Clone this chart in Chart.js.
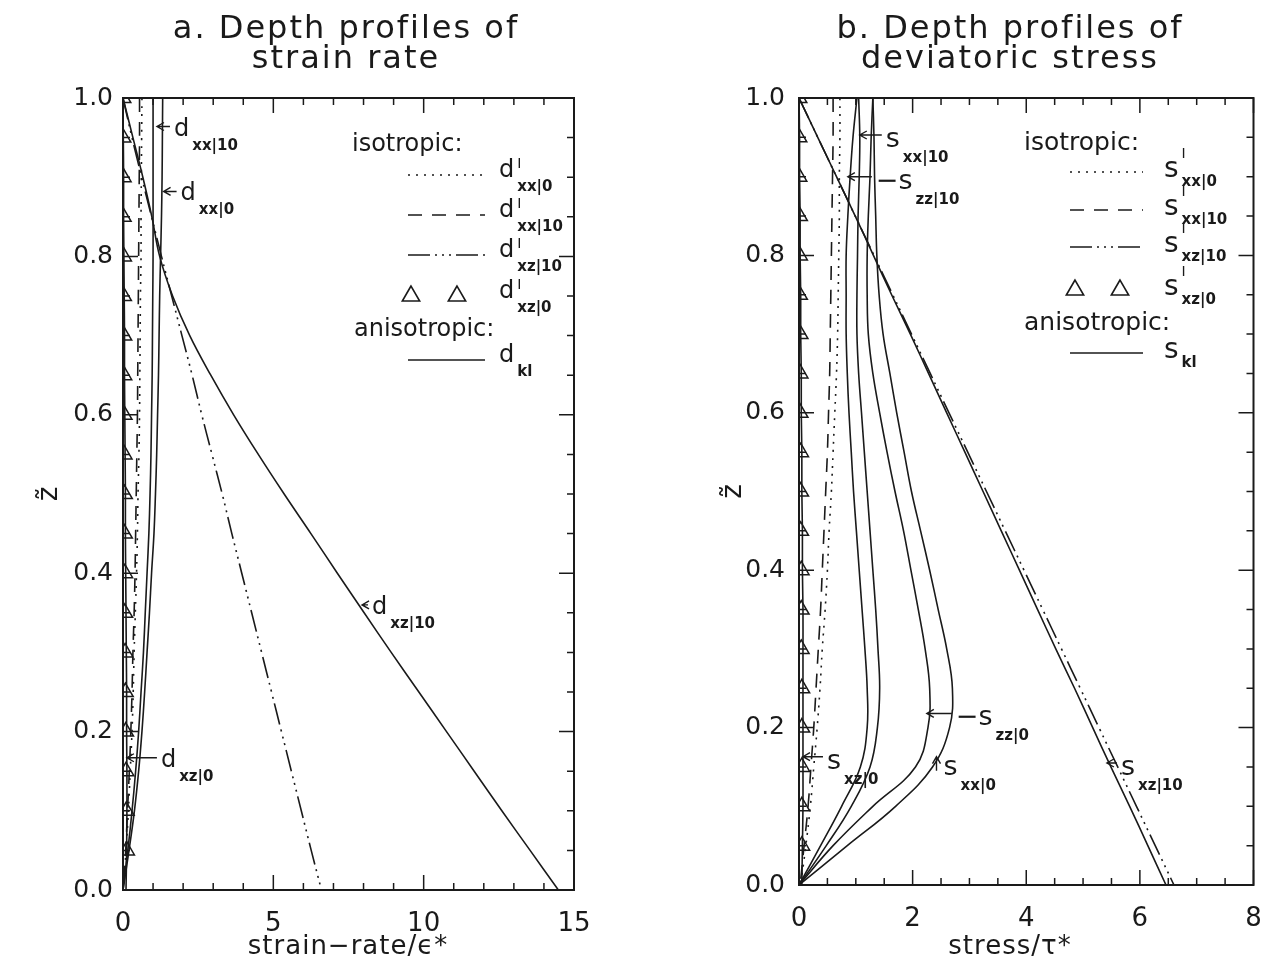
<!DOCTYPE html>
<html>
<head>
<meta charset="utf-8">
<script src="https://cdn.jsdelivr.net/npm/chart.js@4.4.1/dist/chart.umd.min.js"></script>
<style>
  body { margin: 0; background: #fff; }
  #wrap { position: relative; width: 1264px; height: 975px; }
  canvas { position: absolute; top: 0; }
</style>
</head>
<body>
<div id="wrap">
  <canvas id="chartA" width="640" height="975" style="left:0"></canvas>
  <canvas id="chartB" width="624" height="975" style="left:640px"></canvas>
</div>
<script>
// depth levels (z~), top to bottom
var zLevels = [1.0, 0.95, 0.9, 0.85, 0.8, 0.75, 0.7, 0.65, 0.6, 0.55, 0.5, 0.45, 0.4, 0.35, 0.3, 0.25, 0.2, 0.15, 0.1, 0.05, 0.0];
var zMarks = [1.0, 0.95, 0.9, 0.85, 0.8, 0.75, 0.7, 0.65, 0.6, 0.55, 0.5, 0.45, 0.4, 0.35, 0.3, 0.25, 0.2, 0.15, 0.1, 0.05];

// a. strain rate, isotropic
var dIxx0  = [0.63, 0.62, 0.61, 0.6, 0.6, 0.58, 0.57, 0.56, 0.55, 0.53, 0.5, 0.48, 0.45, 0.41, 0.37, 0.34, 0.3, 0.24, 0.18, 0.1, 0.02];
var dIxx10 = [0.55, 0.55, 0.54, 0.53, 0.52, 0.51, 0.5, 0.49, 0.48, 0.46, 0.44, 0.42, 0.4, 0.37, 0.33, 0.3, 0.26, 0.21, 0.15, 0.09, 0.02];
var dIxz10 = [0, 0.3, 0.62, 0.95, 1.28, 1.62, 1.96, 2.3, 2.62, 2.96, 3.3, 3.62, 3.95, 4.28, 4.61, 4.94, 5.27, 5.6, 5.93, 6.26, 6.6];
var dIxz0  = [0, 0, 0.01, 0.01, 0.02, 0.02, 0.03, 0.03, 0.04, 0.04, 0.05, 0.05, 0.06, 0.06, 0.07, 0.08, 0.09, 0.1, 0.11, 0.12];
// a. strain rate, anisotropic
var dxx10 = [1.0, 1.0, 1.0, 1.0, 1.0, 0.99, 0.98, 0.97, 0.95, 0.93, 0.9, 0.86, 0.8, 0.74, 0.68, 0.6, 0.52, 0.42, 0.3, 0.16, 0];
var dxx0  = [1.32, 1.31, 1.3, 1.28, 1.25, 1.22, 1.2, 1.18, 1.15, 1.12, 1.08, 1.03, 0.95, 0.88, 0.8, 0.72, 0.63, 0.52, 0.38, 0.2, 0];
var dxz10 = [0, 0.33, 0.66, 0.96, 1.22, 1.65, 2.22, 2.92, 3.68, 4.5, 5.36, 6.25, 7.13, 8.02, 8.92, 9.84, 10.76, 11.68, 12.6, 13.54, 14.48];
var dxz0  = [0, 0.01, 0.02, 0.02, 0.03, 0.04, 0.05, 0.05, 0.06, 0.07, 0.08, 0.08, 0.09, 0.1, 0.11, 0.12, 0.12, 0.13, 0.13, 0.12, 0.1];

// b. deviatoric stress, isotropic
var sIxx0  = [0.72, 0.72, 0.71, 0.71, 0.7, 0.69, 0.68, 0.66, 0.63, 0.6, 0.57, 0.53, 0.5, 0.46, 0.41, 0.37, 0.32, 0.26, 0.2, 0.12, 0.03];
var sIxx10 = [0.6, 0.6, 0.59, 0.58, 0.57, 0.56, 0.55, 0.54, 0.52, 0.5, 0.47, 0.44, 0.41, 0.38, 0.34, 0.3, 0.26, 0.21, 0.16, 0.09, 0.02];
var sIxz10 = [0, 0.33, 0.66, 0.99, 1.32, 1.65, 1.98, 2.31, 2.64, 2.97, 3.3, 3.63, 3.96, 4.29, 4.62, 4.95, 5.28, 5.61, 5.94, 6.27, 6.6];
var sIxz0  = [0, 0, 0, 0.01, 0.01, 0.01, 0.02, 0.02, 0.02, 0.03, 0.03, 0.03, 0.04, 0.04, 0.04, 0.05, 0.05, 0.05, 0.05, 0.05];
// b. deviatoric stress, anisotropic
var sxx10  = [1.05, 1.07, 1.06, 1.04, 1.03, 1.02, 1.02, 1.05, 1.1, 1.15, 1.2, 1.25, 1.3, 1.35, 1.39, 1.42, 1.38, 1.25, 0.92, 0.48, 0];
var mszz10 = [1.02, 0.95, 0.9, 0.86, 0.83, 0.83, 0.83, 0.85, 0.88, 0.92, 0.96, 1.01, 1.06, 1.11, 1.16, 1.2, 1.2, 1.08, 0.75, 0.38, 0];
var sxx0   = [1.3, 1.32, 1.33, 1.35, 1.37, 1.41, 1.48, 1.6, 1.72, 1.85, 1.98, 2.14, 2.3, 2.45, 2.6, 2.7, 2.65, 2.35, 1.7, 0.85, 0];
var mszz0  = [1.3, 1.27, 1.25, 1.22, 1.2, 1.2, 1.22, 1.3, 1.42, 1.55, 1.69, 1.84, 1.97, 2.1, 2.22, 2.3, 2.27, 2.05, 1.3, 0.6, 0];
var sxz10  = [0, 0.33, 0.66, 0.99, 1.31, 1.63, 1.96, 2.28, 2.6, 2.92, 3.24, 3.56, 3.88, 4.2, 4.52, 4.85, 5.17, 5.49, 5.82, 6.14, 6.46];
var sxz0   = [0, 0.01, 0.01, 0.02, 0.02, 0.03, 0.03, 0.04, 0.04, 0.05, 0.05, 0.06, 0.06, 0.07, 0.07, 0.07, 0.07, 0.07, 0.07, 0.06, 0.05];

// tick labels
var zTicks = [0, 0.2, 0.4, 0.6, 0.8, 1.0];
var xTicksA = [0, 5, 10, 15];
var xTicksB = [0, 2, 4, 6, 8];

var INK = '#1a1a1a';
var FONT = '"DejaVu Sans", sans-serif';
var DOT = [2, 6], DASH = [14, 10], DASHDOT = [22, 5, 2, 5, 2, 5, 2, 5];

function pts(xs, zs) {
    return xs.map(function (v, i) { return { x: v, y: zs[i] }; });
}

function lineSet(data, dash) {
    return {
        data: pts(data, zLevels),
        showLine: true,
        borderColor: INK,
        borderWidth: 1.6,
        borderDash: dash || [],
        pointRadius: 0,
        tension: 0.4,
        clip: 0
    };
}

function markSet(data) {
    return {
        data: pts(data, zMarks),
        showLine: false,
        pointStyle: 'triangle',
        pointRadius: 9,
        pointBorderWidth: 1.5,
        pointBorderColor: INK,
        pointBackgroundColor: 'rgba(0,0,0,0)',
        clip: 0
    };
}

function drawTriangle(ctx, cx, cy, r) {
    ctx.beginPath();
    ctx.moveTo(cx, cy - r);
    ctx.lineTo(cx - r * 0.866, cy + r * 0.5);
    ctx.lineTo(cx + r * 0.866, cy + r * 0.5);
    ctx.closePath();
    ctx.stroke();
}

// letter with stacked super/subscript
function drawSym(ctx, x, base, size, baseY, sup, supY, sub, subY) {
    ctx.textAlign = 'left';
    ctx.textBaseline = 'alphabetic';
    ctx.font = size + 'px ' + FONT;
    ctx.fillText(base, x, baseY);
    var w = ctx.measureText(base).width;
    if (sup) {
        ctx.font = '14px ' + FONT;
        ctx.fillText(sup, x + w + 3, supY);
    }
    if (sub) {
        ctx.font = 'bold 15px ' + FONT;
        ctx.fillText(sub, x + w + 3, subY);
    }
}

// inward ticks on all four sides plus the frame
var frameTicks = {
    id: 'frameTicks',
    afterDatasetsDraw: function (chart, args, o) {
        var ctx = chart.ctx, a = chart.chartArea;
        var xs = chart.scales.x, ys = chart.scales.y;
        ctx.save();
        ctx.strokeStyle = INK;
        ctx.lineWidth = 1.5;
        ctx.beginPath();
        var n = Math.round((xs.max - xs.min) / o.xMinor);
        for (var i = 0; i <= n; i++) {
            var px = xs.getPixelForValue(xs.min + i * o.xMinor);
            var len = (i % o.xPer === 0) ? 15 : 7;
            ctx.moveTo(px, a.bottom); ctx.lineTo(px, a.bottom - len);
            ctx.moveTo(px, a.top); ctx.lineTo(px, a.top + len);
        }
        var m = Math.round((ys.max - ys.min) / o.yMinor);
        for (var j = 0; j <= m; j++) {
            var py = ys.getPixelForValue(ys.min + j * o.yMinor);
            var l2 = (j % o.yPer === 0) ? 15 : 7;
            ctx.moveTo(a.left, py); ctx.lineTo(a.left + l2, py);
            ctx.moveTo(a.right, py); ctx.lineTo(a.right - l2, py);
        }
        ctx.stroke();
        ctx.lineWidth = 2;
        ctx.strokeRect(a.left, a.top, a.right - a.left, a.bottom - a.top);
        ctx.restore();
    }
};

// titles, legend and arrow labels
var deco = {
    id: 'deco',
    afterDraw: function (chart, args, o) {
        var ctx = chart.ctx, a = chart.chartArea;
        var xs = chart.scales.x, ys = chart.scales.y;
        ctx.save();
        ctx.fillStyle = INK;
        ctx.strokeStyle = INK;

        ctx.textAlign = 'center';
        ctx.textBaseline = 'middle';
        ctx.letterSpacing = '2px';
        ctx.font = '32px ' + FONT;
        o.title.forEach(function (t, i) { ctx.fillText(t, o.titleX, 30 + i * 30); });

        ctx.letterSpacing = '1px';
        ctx.font = '26px ' + FONT;
        ctx.fillText(o.xTitle, o.xTitleX, 947);
        ctx.letterSpacing = '0px';

        ctx.save();
        ctx.translate(o.yTitleX, (a.top + a.bottom) / 2);
        ctx.rotate(-Math.PI / 2);
        ctx.font = '28px ' + FONT;
        ctx.fillText('z\u0303', 0, 0);
        ctx.restore();

        // legend
        var L = o.legend;
        ctx.textAlign = 'left';
        ctx.textBaseline = 'middle';
        ctx.font = L.headSize + 'px ' + FONT;
        ctx.fillText('isotropic:', L.isoX, L.isoY);
        ctx.fillText('anisotropic:', L.anisoX, L.anisoY);
        ctx.lineWidth = 1.6;
        L.rows.forEach(function (r) {
            if (r.style === 'tri') {
                ctx.setLineDash([]);
                drawTriangle(ctx, L.x0 + L.tri[0], r.y, 10);
                drawTriangle(ctx, L.x0 + L.tri[1], r.y, 10);
            } else {
                ctx.setLineDash(r.style === 'dot' ? DOT : r.style === 'dash' ? DASH : r.style === 'dashdot' ? DASHDOT : []);
                ctx.beginPath();
                ctx.moveTo(L.x0, r.y);
                ctx.lineTo(L.x1, r.y);
                ctx.stroke();
            }
            ctx.setLineDash([]);
            drawSym(ctx, L.textX, L.base, L.size, r.y + L.baseDy, r.sup, r.y + L.supDy, r.sub, r.y + L.subDy);
        });

        // arrow labels anchored on the curves
        ctx.lineWidth = 1.4;
        o.notes.forEach(function (n) {
            var px = xs.getPixelForValue(n.x), py = ys.getPixelForValue(n.z);
            ctx.beginPath();
            var tx, ty;
            if (n.dir === 'up') {
                ctx.moveTo(px - 4, py + 7); ctx.lineTo(px, py); ctx.lineTo(px + 4, py + 7);
                ctx.moveTo(px, py); ctx.lineTo(px, py + n.len);
                tx = px + 7; ty = py + 6;
            } else {
                ctx.moveTo(px + 7, py - 4); ctx.lineTo(px, py); ctx.lineTo(px + 7, py + 4);
                ctx.moveTo(px, py); ctx.lineTo(px + n.len, py);
                tx = px + n.len + 4; ty = py;
            }
            ctx.stroke();
            var big = n.base.indexOf('s') >= 0;
            drawSym(ctx, tx, n.base, big ? 27 : 24, ty + (big ? 12 : 9), null, 0, n.sub, ty + (big ? 27 : 23));
        });
        ctx.restore();
    }
};

function scalesFor(xTicks, xMax, yWidth, xHeight, yPad) {
    return {
        x: {
            type: 'linear', min: 0, max: xMax,
            afterBuildTicks: function (s) { s.ticks = xTicks.map(function (v) { return { value: v }; }); },
            afterFit: function (s) { s.height = xHeight; s.paddingLeft = 0; s.paddingRight = 0; },
            grid: { display: false, drawTicks: false },
            border: { display: false },
            ticks: { color: INK, font: { family: FONT, size: 26 }, padding: 19, maxRotation: 0,
                     callback: function (v) { return String(v); } }
        },
        y: {
            type: 'linear', min: 0, max: 1,
            afterBuildTicks: function (s) { s.ticks = zTicks.map(function (v) { return { value: v }; }); },
            afterFit: function (s) { s.width = yWidth; s.paddingTop = 0; s.paddingBottom = 0; },
            grid: { display: false, drawTicks: false },
            border: { display: false },
            ticks: { color: INK, font: { family: FONT, size: 25 }, padding: yPad,
                     callback: function (v) { return Number(v).toFixed(1); } }
        }
    };
}

var baseOpts = {
    responsive: false,
    animation: false,
    devicePixelRatio: 1,
    events: []
};

new Chart(document.getElementById('chartA').getContext('2d'), {
    type: 'scatter',
    data: {
        datasets: [
            lineSet(dIxx0, DOT),
            lineSet(dIxx10, DASH),
            lineSet(dIxz10, DASHDOT),
            markSet(dIxz0),
            lineSet(dxx10),
            lineSet(dxx0),
            lineSet(dxz10),
            lineSet(dxz0)
        ]
    },
    options: Object.assign({}, baseOpts, {
        layout: { padding: { top: 98, right: 66, left: 0, bottom: 0 } },
        scales: scalesFor(xTicksA, 15, 123, 85, 10),
        plugins: {
            legend: { display: false },
            tooltip: { enabled: false },
            frameTicks: { xMinor: 1, xPer: 5, yMinor: 0.05, yPer: 4 },
            deco: {
                title: ['a. Depth profiles of', 'strain rate'],
                titleX: 346,
                xTitle: 'strain\u2212rate/\u03f5*',
                xTitleX: 348,
                yTitleX: 50,
                legend: {
                    headSize: 24,
                    isoX: 352, isoY: 145, anisoX: 354, anisoY: 330,
                    x0: 408, x1: 485, tri: [3, 49], textX: 499,
                    base: 'd', size: 24, baseDy: 2, supDy: -7, subDy: 16,
                    rows: [
                        { y: 175, style: 'dot', sup: 'I', sub: 'xx|0' },
                        { y: 215, style: 'dash', sup: 'I', sub: 'xx|10' },
                        { y: 255, style: 'dashdot', sup: 'I', sub: 'xz|10' },
                        { y: 296, style: 'tri', sup: 'I', sub: 'xz|0' },
                        { y: 360, style: 'solid', sup: null, sub: 'kl' }
                    ]
                },
                notes: [
                    { x: 1.13, z: 0.964, len: 13, base: 'd', sub: 'xx|10' },
                    { x: 1.35, z: 0.882, len: 13, base: 'd', sub: 'xx|0' },
                    { x: 0.13, z: 0.167, len: 30, base: 'd', sub: 'xz|0' },
                    { x: 7.95, z: 0.36, len: 6, base: 'd', sub: 'xz|10' }
                ]
            }
        }
    }),
    plugins: [frameTicks, deco]
});

new Chart(document.getElementById('chartB').getContext('2d'), {
    type: 'scatter',
    data: {
        datasets: [
            lineSet(sIxx0, DOT),
            lineSet(sIxx10, DASH),
            lineSet(sIxz10, DASHDOT),
            markSet(sIxz0),
            lineSet(sxx10),
            lineSet(mszz10),
            lineSet(sxx0),
            lineSet(mszz0),
            lineSet(sxz10),
            lineSet(sxz0)
        ]
    },
    options: Object.assign({}, baseOpts, {
        layout: { padding: { top: 98, right: 9, left: 0, bottom: 0 } },
        scales: scalesFor(xTicksB, 8, 159, 90, 14),
        plugins: {
            legend: { display: false },
            tooltip: { enabled: false },
            frameTicks: { xMinor: 0.5, xPer: 4, yMinor: 0.05, yPer: 4 },
            deco: {
                title: ['b. Depth profiles of', 'deviatoric stress'],
                titleX: 370,
                xTitle: 'stress/\u03c4*',
                xTitleX: 370,
                yTitleX: 94,
                legend: {
                    headSize: 25,
                    isoX: 384, isoY: 143, anisoX: 384, anisoY: 323,
                    x0: 430, x1: 503, tri: [5, 50], textX: 524,
                    base: 's', size: 28, baseDy: 5, supDy: -14, subDy: 14,
                    rows: [
                        { y: 172, style: 'dot', sup: 'I', sub: 'xx|0' },
                        { y: 210, style: 'dash', sup: 'I', sub: 'xx|10' },
                        { y: 247, style: 'dashdot', sup: 'I', sub: 'xz|10' },
                        { y: 290, style: 'tri', sup: 'I', sub: 'xz|0' },
                        { y: 353, style: 'solid', sup: null, sub: 'kl' }
                    ]
                },
                notes: [
                    { x: 1.07, z: 0.953, len: 22, base: 's', sub: 'xx|10' },
                    { x: 0.86, z: 0.9, len: 24, base: '\u2212s', sub: 'zz|10' },
                    { x: 0.07, z: 0.163, len: 20, base: 's', sub: 'xz|0' },
                    { x: 2.25, z: 0.218, len: 25, base: '\u2212s', sub: 'zz|0' },
                    { x: 2.42, z: 0.163, len: 14, dir: 'up', base: 's', sub: 'xx|0' },
                    { x: 5.42, z: 0.155, len: 10, base: 's', sub: 'xz|10' }
                ]
            }
        }
    }),
    plugins: [frameTicks, deco]
});
</script>
</body>
</html>
